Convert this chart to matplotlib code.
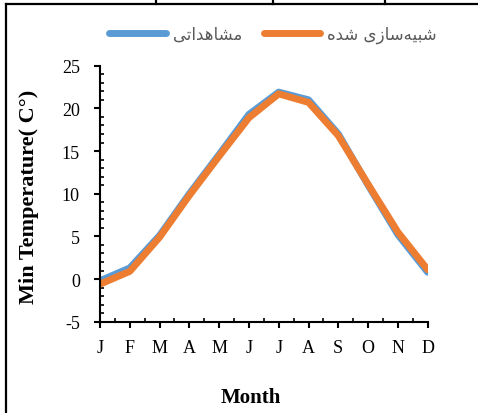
import numpy as np
import matplotlib
matplotlib.use("Agg")
import matplotlib.pyplot as plt
from matplotlib.lines import Line2D
from matplotlib.ticker import MultipleLocator

months = ['J', 'F', 'M', 'A', 'M', 'J', 'J', 'A', 'S', 'O', 'N', 'D']
observed = [-0.2, 1.3, 5.1, 10.0, 14.6, 19.3, 21.9, 21.0, 17.0, 11.0, 5.2, 0.8]
simulated = [-0.6, 0.9, 4.9, 9.8, 14.4, 18.9, 21.7, 20.7, 16.8, 11.1, 5.5, 1.1]
label_obs = 'مشاهداتی'
label_sim = 'شبیه\u200cسازی شده'

# matplotlib has no arabic shaping, so pick presentation forms by hand
# (isolated, final, initial, medial); two-form letters only join on the right
FORMS = {
    'ا': ('\ufe8d', '\ufe8e'),
    'ب': ('\ufe8f', '\ufe90', '\ufe91', '\ufe92'),
    'ت': ('\ufe95', '\ufe96', '\ufe97', '\ufe98'),
    'د': ('\ufea9', '\ufeaa'),
    'ز': ('\ufeaf', '\ufeb0'),
    'س': ('\ufeb1', '\ufeb2', '\ufeb3', '\ufeb4'),
    'ش': ('\ufeb5', '\ufeb6', '\ufeb7', '\ufeb8'),
    'م': ('\ufee1', '\ufee2', '\ufee3', '\ufee4'),
    'ه': ('\ufee9', '\ufeea', '\ufeeb', '\ufeec'),
    'ی': ('\ufbfc', '\ufbfd', '\ufbfe', '\ufbff'),
}

def shape(text):
    out = []
    for i, ch in enumerate(text):
        if ch not in FORMS:
            if ch != '\u200c':
                out.append(ch)
            continue
        prev = text[i - 1] if i > 0 else ''
        nxt = text[i + 1] if i + 1 < len(text) else ''
        join_prev = prev in FORMS and len(FORMS[prev]) == 4
        join_next = nxt in FORMS and len(FORMS[ch]) == 4
        f = FORMS[ch]
        if join_prev and join_next:
            out.append(f[3])
        elif join_next:
            out.append(f[2])
        elif join_prev:
            out.append(f[1])
        else:
            out.append(f[0])
    return ''.join(reversed(out))

plt.rcParams['font.family'] = ['Liberation Serif', 'DejaVu Sans']
plt.rcParams['axes.unicode_minus'] = False

fig = plt.figure(figsize=(4.78, 4.14), dpi=100)
ax = fig.add_axes([0.2092, 0.2205, 0.6855, 0.6184])

x = np.arange(len(months))
ax.plot(x, observed, color='#5B9BD5', lw=5, solid_capstyle='round',
        solid_joinstyle='round', label=shape(label_obs))
ax.plot(x, simulated, color='#ED7D31', lw=5, solid_capstyle='round',
        solid_joinstyle='round', label=shape(label_sim))

ax.set_xlim(0, 11)
ax.set_ylim(-5, 25)
ax.set_xticks(x)
ax.set_xticklabels(months)
ax.xaxis.set_minor_locator(MultipleLocator(0.5))
ax.yaxis.set_major_locator(MultipleLocator(5))
ax.yaxis.set_minor_locator(MultipleLocator(1))
for s in ['top', 'right']:
    ax.spines[s].set_visible(False)
for s in ['left', 'bottom']:
    ax.spines[s].set_linewidth(1.5)
ax.tick_params(axis='both', which='major', direction='out', length=4.5,
               width=1.5, labelsize=13, pad=8)
ax.tick_params(axis='both', which='minor', direction='in', length=3, width=1.2)
ax.tick_params(axis='y', which='major', pad=10)

ax.set_ylabel('Min Temperature( C°)', fontsize=16, fontweight='bold')
ax.yaxis.set_label_coords(-0.185, 0.49)
ax.set_xlabel('Month', fontsize=15, fontweight='bold')
ax.xaxis.set_label_coords(0.461, -0.255)

leg = fig.legend(loc='center', bbox_to_anchor=(273 / 478, 1 - 35 / 414), ncol=2,
                 frameon=False, handlelength=3.4, handletextpad=0.4,
                 columnspacing=1.3, prop={'family': 'DejaVu Sans', 'size': 12})
for t in leg.get_texts():
    t.set_color('#595959')

# page frame around the figure
W, H = 478, 414
frame = [((6 / W, 6 / W), (0, 1 - 5 / H)),
         ((6 / W, 1), (1 - 5 / H, 1 - 5 / H)),
         ((156 / W, 156 / W), (1 - 5 / H, 1)),
         ((273 / W, 273 / W), (1 - 5 / H, 1)),
         ((385 / W, 385 / W), (1 - 5 / H, 1))]
for xs, ys in frame:
    fig.add_artist(Line2D(xs, ys, color='black', lw=1.6, transform=fig.transFigure))

fig.savefig('out.png', dpi=100)
